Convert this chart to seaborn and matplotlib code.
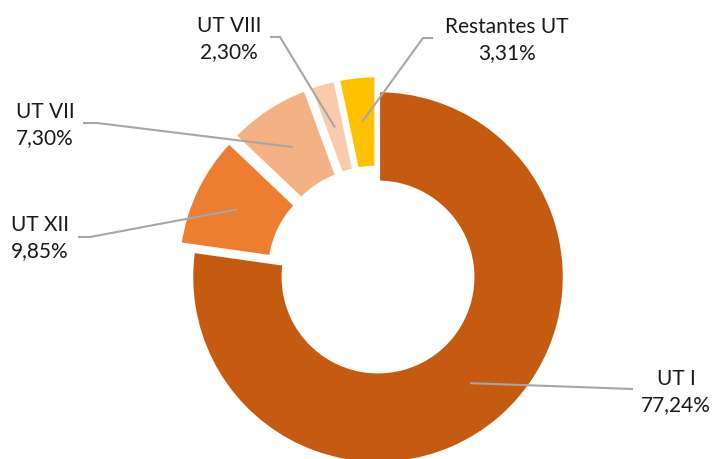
import numpy as np
import matplotlib
matplotlib.use("Agg")
import matplotlib.pyplot as plt
import seaborn as sns

# Data
labels = ["UT I", "UT XII", "UT VII", "UT VIII", "Restantes UT"]
shares = [77.24, 9.85, 7.30, 2.30, 3.31]
pct_text = ["77,24%", "9,85%", "7,30%", "2,30%", "3,31%"]
colors = ["#C55A11", "#ED7D31", "#F4B183", "#F8CBAD", "#FFC000"]
explode = [0, 0.081, 0.081, 0.081, 0.081]

# label layout in pixels (text centre, leader start, leader bend)
label_pos = [(676, 392), (40, 238), (45, 125), (229, 39), (507, 40)]
leader_start = [(633, 389), (78, 237), (83, 123), (270, 37), (433, 38)]
leader_bend = [(633, 389), (90, 237), (97, 123), (280, 37), (423, 38)]

sns.set_theme(style="white")
plt.rcParams["font.family"] = ["Lato", "DejaVu Sans"]

W, H = 714, 459
CX, CY, R = 378, 277, 185


def px(x, y):
    return (x - CX) / R, (CY - y) / R


fig = plt.figure(figsize=(W / 100, H / 100), dpi=100)
ax = fig.add_axes([0, 0, 1, 1])
wedges, _ = ax.pie(shares, colors=colors, explode=explode, startangle=90,
                   counterclock=False, radius=1.01,
                   wedgeprops=dict(width=0.5, edgecolor="white", linewidth=3))

ax.set_xlim(-CX / R, (W - CX) / R)
ax.set_ylim((CY - H) / R, CY / R)
ax.set_aspect("equal")
ax.axis("off")

line_col = "#A6A6A6"
for w, lab, pt, pos, s, b in zip(wedges, labels, pct_text, label_pos,
                                 leader_start, leader_bend):
    mid = np.deg2rad((w.theta1 + w.theta2) / 2)
    rr = w.r - w.width / 2
    ex = w.center[0] + rr * np.cos(mid)
    ey = w.center[1] + rr * np.sin(mid)
    sx, sy = px(*s)
    bx, by = px(*b)
    ax.plot([sx, bx, ex], [sy, by, ey], color=line_col, lw=1.5,
            solid_capstyle="butt", zorder=3)
    tx, ty = px(*pos)
    ax.text(tx, ty, f"{lab}\n{pt}", ha="center", va="center",
            fontsize=15, color="#1a1a1a", linespacing=1.4)

fig.savefig("out.png", dpi=100)
